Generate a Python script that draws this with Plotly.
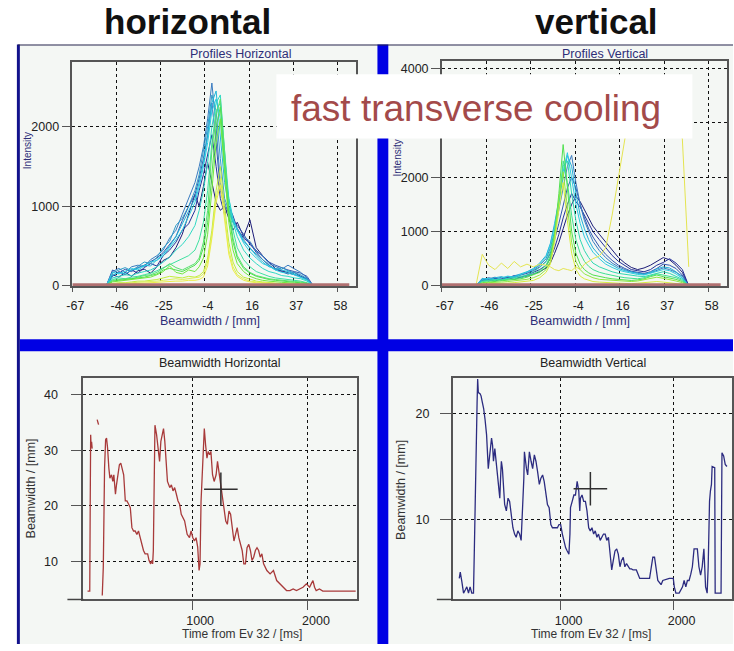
import plotly.graph_objects as go

W, H = 734, 651

# ---------------- profile data (intensity vs position) ----------------
PH_MM = [-51, -48, -45, -42, -39, -36, -33, -30, -27, -24, -21, -18, -15, -12, -9,
         -7, -5, -3, -1, 1, 3, 5, 7, 9, 11,
         14, 17, 20, 23, 26, 29, 32, 35, 38, 41, 44, 47]

PH_1 = [0, 140, 110, 170, 120, 190, 210, 160, 240, 320, 360, 480, 650, 900, 1150,
        1000, 1250, 1550, 1300, 1050, 950, 1000, 850, 700, 800,
        620, 830, 480, 380, 300, 220, 190, 160, 140, 120, 80, 0]
PH_2 = [0, 120, 180, 140, 200, 160, 230, 280, 250, 380, 450, 550, 700, 780, 950,
        1200, 1400, 1650, 1900, 1500, 1100, 900, 1000, 880, 720,
        600, 540, 420, 330, 260, 210, 180, 150, 170, 120, 90, 0]
PH_3 = [0, 200, 160, 210, 180, 230, 260, 300, 350, 420, 520, 620, 820, 1000, 1150,
        1350, 1600, 1900, 2300, 1800, 1200, 1000, 950, 800, 760,
        650, 520, 450, 380, 300, 260, 230, 200, 180, 160, 120, 0]
PH_4 = [0, 180, 220, 170, 240, 260, 240, 330, 380, 450, 600, 700, 900, 1100, 1300,
        1500, 1750, 2100, 2550, 2000, 1300, 1050, 900, 850, 700,
        620, 560, 430, 380, 280, 240, 210, 260, 220, 170, 100, 0]
PH_5 = [0, 160, 200, 230, 190, 250, 300, 280, 360, 480, 560, 760, 850, 1000, 1200,
        1400, 1700, 2000, 2400, 2200, 1600, 1100, 950, 800, 720,
        580, 470, 400, 320, 260, 200, 230, 190, 160, 140, 90, 0]
PH_6 = [0, 130, 170, 150, 200, 220, 260, 250, 330, 400, 500, 620, 780, 950, 1100,
        1300, 1550, 1900, 2300, 2450, 1900, 1300, 1000, 820, 700,
        560, 480, 380, 300, 240, 220, 200, 180, 150, 120, 80, 0]
PH_7 = [0, 170, 150, 190, 220, 200, 250, 300, 320, 380, 480, 580, 700, 880, 1050,
        1250, 1500, 1800, 2200, 2350, 2100, 1500, 1100, 850, 700,
        540, 430, 350, 280, 250, 200, 170, 160, 140, 110, 70, 0]
PH_8 = [0, 100, 120, 140, 130, 160, 180, 200, 240, 300, 360, 450, 520, 620, 760,
        950, 1200, 1550, 2000, 2300, 2400, 1700, 1100, 800, 620,
        450, 350, 280, 220, 180, 160, 130, 120, 100, 90, 60, 0]
PH_9 = [0, 80, 100, 90, 110, 120, 140, 160, 190, 230, 260, 300, 340, 380, 450,
        580, 800, 1200, 1800, 2200, 2300, 1600, 1000, 700, 480,
        330, 240, 180, 150, 120, 100, 90, 80, 70, 60, 40, 0]
PH_10 = [0, 70, 80, 90, 90, 110, 130, 140, 170, 220, 280, 230, 200, 240, 280,
         350, 550, 950, 1700, 2150, 2350, 1700, 950, 600, 380,
         240, 170, 130, 110, 90, 80, 70, 60, 55, 50, 35, 0]
PH_11 = [0, 60, 70, 80, 90, 100, 110, 130, 150, 200, 220, 200, 180, 220, 260,
         320, 480, 800, 1400, 2000, 2250, 1500, 900, 550, 350,
         220, 160, 120, 100, 80, 70, 60, 50, 45, 40, 30, 0]
PH_12 = [0, 50, 60, 70, 80, 90, 100, 110, 140, 180, 250, 170, 150, 200, 180,
         240, 350, 650, 1200, 1800, 2100, 1400, 800, 450, 280,
         180, 120, 90, 70, 60, 50, 45, 40, 35, 30, 20, 0]
PH_13 = [0, 30, 40, 40, 50, 60, 60, 70, 80, 100, 120, 110, 100, 120, 110,
         130, 180, 350, 700, 1200, 1500, 1000, 550, 300, 180,
         110, 80, 60, 50, 40, 35, 30, 30, 25, 20, 15, 0]
PH_14 = [0, 25, 30, 35, 35, 40, 45, 50, 60, 70, 80, 90, 80, 90, 100,
         110, 150, 300, 650, 1100, 1350, 900, 450, 240, 140,
         90, 60, 50, 40, 35, 30, 25, 25, 20, 20, 15, 0]
PH_15 = [0, 20, 25, 25, 30, 30, 35, 40, 45, 50, 60, 60, 60, 70, 70,
         80, 110, 250, 600, 1050, 1270, 800, 400, 200, 120,
         70, 50, 40, 35, 30, 25, 20, 20, 15, 15, 10, 0]
PH_ALL = [PH_1, PH_2, PH_3, PH_4, PH_5, PH_6, PH_7, PH_8, PH_9, PH_10,
          PH_11, PH_12, PH_13, PH_14, PH_15]

PV_MM = [-51, -48, -45, -42, -39, -36, -33, -30, -27, -24, -21, -18,
         -16, -14, -12, -10, -8, -6, -4, -2, 0, 2, 4,
         7, 10, 13, 16, 19, 22, 25, 28, 31, 34, 37, 40, 43, 46, 49]

PV_1 = [0, 100, 120, 90, 130, 150, 120, 160, 180, 220, 260, 330,
        420, 600, 800, 1050, 1300, 1500, 1650, 1550, 1400, 1250, 1100,
        950, 800, 650, 520, 420, 340, 300, 330, 380, 450, 520, 480, 380, 250, 0]
PV_2 = [0, 130, 90, 140, 110, 160, 180, 150, 200, 250, 300, 380,
        500, 700, 950, 1250, 1500, 1700, 1550, 1450, 1300, 1150, 1000,
        850, 700, 560, 450, 380, 300, 280, 260, 300, 380, 430, 500, 420, 300, 0]
PV_3 = [0, 110, 150, 120, 160, 140, 190, 200, 230, 280, 350, 450,
        600, 850, 1150, 1500, 1800, 2000, 1800, 1500, 1250, 1050, 900,
        720, 580, 470, 380, 320, 270, 250, 230, 260, 320, 400, 380, 320, 200, 0]
PV_4 = [0, 90, 130, 160, 120, 170, 150, 200, 240, 300, 380, 500,
        700, 1000, 1400, 1800, 2200, 2400, 1900, 1500, 1200, 1000, 820,
        650, 520, 420, 350, 300, 260, 240, 220, 240, 290, 330, 300, 250, 180, 0]
PV_5 = [0, 140, 110, 150, 170, 130, 180, 220, 260, 320, 420, 560,
        780, 1150, 1600, 2000, 2400, 2200, 1700, 1300, 1050, 850, 700,
        560, 450, 380, 320, 280, 250, 230, 210, 250, 310, 350, 330, 260, 150, 0]
PV_6 = [0, 120, 140, 110, 150, 180, 160, 210, 250, 300, 400, 530,
        760, 1100, 1550, 2100, 2450, 2000, 1500, 1150, 900, 750, 620,
        500, 400, 340, 290, 260, 230, 210, 200, 230, 260, 300, 280, 220, 140, 0]
PV_7 = [0, 90, 100, 120, 110, 140, 150, 180, 200, 260, 340, 450,
        650, 1000, 1500, 2200, 2300, 1700, 1200, 850, 650, 520, 420,
        350, 300, 260, 230, 210, 190, 180, 170, 200, 240, 260, 230, 180, 120, 0]
PV_8 = [0, 80, 90, 100, 100, 110, 130, 150, 180, 220, 280, 380,
        560, 900, 1500, 2300, 1900, 1300, 850, 600, 450, 360, 300,
        250, 220, 190, 170, 150, 140, 130, 150, 180, 220, 200, 180, 150, 100, 0]
PV_9 = [0, 60, 70, 80, 90, 100, 110, 130, 160, 200, 250, 350,
        520, 950, 1700, 2600, 1800, 1000, 600, 400, 300, 240, 200,
        170, 150, 130, 120, 110, 100, 110, 130, 170, 200, 170, 150, 120, 80, 0]
PV_10 = [0, 50, 60, 60, 70, 80, 90, 100, 120, 150, 200, 300,
         450, 900, 1600, 2100, 1500, 800, 450, 300, 220, 180, 150,
         120, 110, 100, 90, 80, 80, 90, 110, 140, 160, 140, 120, 90, 60, 0]
PV_11 = [0, 30, 40, 40, 50, 50, 60, 70, 80, 100, 150, 250,
         400, 800, 1400, 1900, 1200, 600, 300, 180, 130, 100, 80,
         70, 60, 55, 50, 45, 40, 50, 60, 70, 80, 70, 60, 50, 30, 0]
PV_12 = [0, 580, 380, 300, 420, 320, 450, 350, 400, 350, 400, 380,
         350, 300, 280, 320, 300, 280, 350, 300, 400, 450, 500,
         550, 700, 1300, 2000, 2700, 3300, 3500, 3600, 3500, 3600, 3500, 3400, 3200, 2700, 350]
PV_ALL = [PV_1, PV_2, PV_3, PV_4, PV_5, PV_6, PV_7, PV_8, PV_9, PV_10, PV_11, PV_12]

BASE_MM = [-67, 64]
BASE_H = [15, 15]
BASE_V = [20, 20]

MM_TICKS = [-67, -46.1, -25.2, -4.3, 16.6, 37.5, 58.4]
MM_TICK_TEXT = ["-67", "-46", "-25", "-4", "16", "37", "58"]
INT_TICKS_H = [0, 1000, 2000]
INT_TICKS_V = [0, 1000, 2000, 3000, 4000]
INT_TEXT_V = ["0", "1000", "2000", "", "4000"]

# ---------------- beamwidth vs time ----------------
BWH_T = [97, 116, 120, 124, 128, 132, 137, None, 180, 192, None,
         224, 233, 244, 253, 261, 270, 281, 290, 304, 315, 324, 338, 347, 361, 372, 384,
         395, 409, 423, 437, 452, 466, 480, 494, 508, 523, 537, 551, 565, 580, 594, 616,
         628, 642, 651, 659, 665, 673, 679, 693, 707, 719, 730, 741, 753, 764, 776, 787,
         807, 821, 835, 849, 864, 878, 892, 906, 935, 957, 977, 991, 1006, 1020, 1034,
         1048, 1060, 1068, 1077, 1094, 1105, 1116, 1128, 1139, 1151, 1162, 1176, 1190,
         1207, 1219, 1230, 1241, 1253, 1264, 1276, 1290, 1304, 1318, 1332, 1347, 1361,
         1375, 1389, 1403, 1418, 1432, 1446, 1460, 1474, 1489, 1503, 1517, 1531, 1546,
         1560, 1574, 1588, 1602, 1617, 1645, 1673, 1702, 1730, 1759, 1787, 1815, 1844,
         1872, 1901, 1929, 1957, 1986, 2000, 2014, 2028, 2043, 2057, 2071, 2099, 2128,
         2156, 2412]
BWH_V = [4.7, 4.7, 20.0, 32.8, 30.5, 31.5, 30.3, None, 35.5, 34.6, None,
         3.9, 9.0, 26.8, 31.9, 32.2, 30.4, 26.8, 25.0, 25.6, 24.4, 25.6, 22.1, 23.8, 25.6, 27.4, 27.7,
         26.8, 25.6, 20.9, 20.9, 20.3, 19.7, 16.1, 15.5, 15.5, 14.9, 15.5, 14.3, 13.1, 12.0, 11.4, 11.4,
         10.2, 9.6, 10.2, 9.6, 12.0, 26.8, 34.5, 32.8, 29.8, 28.0, 31.6, 32.8, 33.9, 31.6, 28.0, 24.4,
         23.3, 23.8, 22.7, 23.3, 22.1, 20.9, 20.3, 18.5, 17.3, 14.9, 14.3, 15.5, 14.3, 13.7, 14.3,
         12.6, 8.4, 9.6, 20.9, 31.0, 33.9, 31.0, 28.6, 29.8, 29.2, 29.8, 25.6, 24.4,
         25.6, 28.0, 26.2, 24.4, 22.7, 20.9, 19.7, 17.3, 16.7, 19.1, 18.5, 16.1, 13.7,
         14.9, 16.1, 14.3, 13.1, 12.0, 9.6, 9.6, 12.5, 13.1, 12.0, 10.2, 10.8, 12.0,
         12.5, 12.0, 10.8, 11.4, 9.6, 8.4, 7.8, 8.4, 6.6, 6.0, 5.4, 4.8, 4.8,
         5.1, 4.8, 5.1, 5.4, 6.0, 5.7, 5.4, 6.0, 6.6, 5.4, 4.8, 5.1, 4.7,
         4.7, 4.7]

BWV_T = [102, 111, 125, 140, 155, 169, 184, 198, 213, 228, 236, 242, 251, 260, 265, 271,
         286, 295, 306, 318, 330, 344, 359, 367, 376, 388, 397, 405, 417, 429, 440, 452,
         461, 469, 475, 484, 493, 504, 519, 534, 548, 563, 577, 592, 606, 621, 636, 650,
         665, 674, 679, 688, 697, 708, 723, 738, 752, 767, 781, 796, 811, 825, 840, 854,
         869, 883, 898, 913, 927, 971, 985, 1000, 1015, 1029, 1044, 1058, 1073, 1082,
         1087, 1102, 1117, 1131, 1140, 1146, 1160, 1169, 1175, 1189, 1204, 1219, 1233,
         1248, 1262, 1277, 1292, 1306, 1321, 1335, 1350, 1364, 1379, 1394, 1408, 1423,
         1437, 1452, 1466, 1481, 1496, 1510, 1525, 1539, 1554, 1568, 1583, 1598, 1612,
         1627, 1641, 1670, 1700, 1787, 1802, 1816, 1831, 1845, 1860, 1889, 1904, 1962,
         1997, 2006, 2020, 2049, 2079, 2093, 2108, 2122, 2137, 2152, 2166, 2181, 2210,
         2224, 2239, 2253, 2268, 2283, 2297, 2306, 2312, 2318, 2326, 2335, 2341, 2364,
         2368, 2420, 2428, 2443, 2457, 2472]
BWV_V = [4.4, 5.0, 4.1, 3.0, 3.3, 3.6, 3.0, 3.6, 3.0, 3.0, 7.3, 11.7, 18.0, 21.1, 23.3, 22.0,
         21.9, 21.7, 21.1, 20.5, 19.5, 18.0, 14.8, 15.5, 16.4, 17.7, 17.0, 15.5, 16.7, 15.5, 14.2, 13.3,
         12.0, 14.2, 15.5, 14.8, 13.0, 11.4, 10.8, 12.0, 11.7, 10.5, 9.2, 8.6, 8.3, 8.9, 8.6, 8.0,
         11.1, 13.9, 16.4, 15.5, 14.8, 14.2, 16.4, 15.5, 14.8, 16.1, 15.5, 14.5, 13.3, 13.9, 14.2, 13.6,
         12.3, 11.4, 11.1, 9.5, 9.2, 9.2, 9.5, 9.5, 8.6, 8.0, 7.3, 7.0, 6.7, 8.6,
         11.1, 11.7, 12.3, 12.3, 13.0, 13.6, 12.7, 10.8, 12.0, 12.3, 11.7, 11.7, 10.8,
         9.2, 8.9, 9.2, 8.6, 8.9, 8.3, 8.6, 8.0, 8.3, 8.6, 8.6, 8.0, 8.3,
         7.0, 5.2, 6.1, 7.0, 7.2, 6.7, 5.5, 6.1, 6.4, 5.5, 5.8, 5.5, 5.3,
         5.3, 5.2, 5.2, 4.4, 4.4, 5.5, 6.4, 6.4, 5.5, 4.2, 3.8, 4.2, 4.4,
         4.4, 3.6, 3.0, 3.0, 3.6, 4.2, 3.6, 4.2, 4.2, 4.8, 5.5, 7.2, 7.2,
         5.5, 4.7, 5.5, 7.2, 3.6, 3.0, 5.5, 10.2, 11.7, 12.7, 13.3, 15.0, 14.9,
         3.0, 3.0, 16.3, 16.0, 15.2, 15.0]

CURSOR_H = ([1248], [23.0])
CURSOR_V = ([1263], [12.9])
T_TICKS = [1000, 2000]
BWH_TICKS = [10, 20, 30, 40]
BWV_TICKS = [10, 20]

# ---------------- styling ----------------
PH_COLORS = ["#1c1c78", "#24309a", "#2f55b0", "#3a7cc0", "#2f9cc8", "#22b6da",
             "#2ccbe0", "#30d8c4", "#3ee0a0", "#58e070", "#4fe050", "#70e83c",
             "#c0ec3c", "#dcee58", "#ecec48"]
PV_COLORS = ["#1c1c78", "#24309a", "#2f55b0", "#3a7cc0", "#22b0d8", "#2ccbe0",
             "#30d8b0", "#3ee090", "#50e050", "#90e840", "#d8ec40", "#e4e450"]

PANEL_BG = "#f4f7f4"
BLUE = "#0000e4"
FONT = "Liberation Sans"


def px(x):
    return x / W


def py(y):
    return 1 - y / H


fig = go.Figure()

for vals, col in zip(PH_ALL, PH_COLORS):
    fig.add_trace(go.Scatter(x=PH_MM, y=vals, mode="lines", line=dict(color=col, width=1),
                             xaxis="x", yaxis="y", showlegend=False))
fig.add_trace(go.Scatter(x=BASE_MM, y=BASE_H, mode="lines", line=dict(color="#b07070", width=3),
                         xaxis="x", yaxis="y", showlegend=False))

for vals, col in zip(PV_ALL, PV_COLORS):
    fig.add_trace(go.Scatter(x=PV_MM, y=vals, mode="lines", line=dict(color=col, width=1),
                             xaxis="x2", yaxis="y2", showlegend=False))
fig.add_trace(go.Scatter(x=BASE_MM, y=BASE_V, mode="lines", line=dict(color="#b07070", width=3),
                         xaxis="x2", yaxis="y2", showlegend=False))

fig.add_trace(go.Scatter(x=BWH_T, y=BWH_V, mode="lines", connectgaps=False,
                         line=dict(color="#a83a3a", width=1.3),
                         xaxis="x3", yaxis="y3", showlegend=False))
fig.add_trace(go.Scatter(x=CURSOR_H[0], y=CURSOR_H[1], mode="markers",
                         marker=dict(symbol="cross-thin", size=24, line=dict(color="#303030", width=1.5)),
                         xaxis="x3", yaxis="y3", showlegend=False))

fig.add_trace(go.Scatter(x=BWV_T, y=BWV_V, mode="lines",
                         line=dict(color="#2c2c80", width=1.3),
                         xaxis="x4", yaxis="y4", showlegend=False))
fig.add_trace(go.Scatter(x=CURSOR_V[0], y=CURSOR_V[1], mode="markers",
                         marker=dict(symbol="cross-thin", size=24, line=dict(color="#303030", width=1.5)),
                         xaxis="x4", yaxis="y4", showlegend=False))

tickfont = dict(family=FONT, size=12.5, color="#222222")
common = dict(showline=True, mirror=True, linecolor="#555555", linewidth=1.5,
              showgrid=True, gridcolor="#111111", griddash="3px,3px", gridwidth=1,
              zeroline=False, ticks="outside", tickcolor="#555555", tickfont=tickfont,
              fixedrange=True)

fig.update_layout(
    width=W, height=H,
    margin=dict(l=0, r=0, t=0, b=0),
    paper_bgcolor="white", plot_bgcolor=PANEL_BG,
    xaxis=dict(domain=[px(67), px(353)], range=[-67, 67], anchor="y",
               tickvals=MM_TICKS, ticktext=MM_TICK_TEXT, ticklen=4,
               ticklabelstandoff=3, ticklabelshift=3, **common),
    yaxis=dict(domain=[py(289), py(63)], range=[0, 2810], anchor="x",
               tickvals=INT_TICKS_H, ticklen=9, **common),
    xaxis2=dict(domain=[px(440), px(728)], range=[-67, 67], anchor="y2",
                tickvals=MM_TICKS, ticktext=MM_TICK_TEXT, ticklen=4,
                ticklabelstandoff=3, ticklabelshift=3, **common),
    yaxis2=dict(domain=[py(289), py(62)], range=[0, 4130], anchor="x2",
                tickvals=INT_TICKS_V, ticktext=INT_TEXT_V, ticklen=9, **common),
    xaxis3=dict(domain=[px(78), px(354)], range=[60, 2420], anchor="y3",
                tickvals=T_TICKS, ticklen=9, ticklabelshift=8, ticklabelstandoff=0, **common),
    yaxis3=dict(domain=[py(606), py(382)], range=[3.2, 43], anchor="x3",
                tickvals=BWH_TICKS, ticklen=11, ticklabelstandoff=10, **common),
    xaxis4=dict(domain=[px(451), px(733)], range=[44, 2517], anchor="y4",
                tickvals=T_TICKS, ticklen=9, ticklabelshift=8, ticklabelstandoff=0, **common),
    yaxis4=dict(domain=[py(606), py(382)], range=[2.4, 23.4], anchor="x4",
                tickvals=BWV_TICKS, ticklen=11, ticklabelstandoff=8, **common),
)


def rect(x0, y0, x1, y1, color, layer="below"):
    return dict(type="rect", xref="paper", yref="paper", x0=px(x0), x1=px(x1),
                y0=py(y1), y1=py(y0), fillcolor=color, line=dict(width=0), layer=layer)


def hline(x0, x1, y, color, width):
    return dict(type="line", xref="paper", yref="paper", x0=px(x0), x1=px(x1),
                y0=py(y), y1=py(y), line=dict(color=color, width=width), layer="above")


shapes = [
    rect(14, 46, 375, 343, PANEL_BG),
    rect(386, 46, 734, 343, PANEL_BG),
    rect(14, 355, 375, 651, PANEL_BG),
    rect(386, 355, 734, 651, PANEL_BG),
    rect(11, 45, 14, 651, "#12128c"),
    rect(375, 45, 386, 651, BLUE),
    rect(14, 343, 734, 355, BLUE),
    hline(12, 734, 45.5, "#22224a", 1.2),
    hline(62, 78, 606, "#444444", 1.5),
    hline(435, 451, 606, "#444444", 1.5),
    rect(273, 75, 693, 140, "white", layer="above"),
]
fig.update_layout(shapes=shapes)


def note(text, x, y, size, color, angle=0, bold=False, xanchor="center"):
    if bold:
        text = "<b>" + text + "</b>"
    return dict(text=text, x=px(x), y=py(y), xref="paper", yref="paper", showarrow=False,
                xanchor=xanchor, yanchor="middle", textangle=angle,
                font=dict(family=FONT, size=size, color=color))


NAVY_TXT = "#2e2e78"
annotations = [
    note("horizontal", 183, 22, 35, "#111111", bold=True),
    note("vertical", 596, 22, 35, "#111111", bold=True),
    note("Profiles Horizontal", 237, 55, 12.5, NAVY_TXT),
    note("Profiles Vertical", 605, 55, 12.5, NAVY_TXT),
    note("Intensity", 22, 152, 10, NAVY_TXT, angle=-90),
    note("Intensity", 395, 160, 10, NAVY_TXT, angle=-90),
    note("Beamwidth / [mm]", 206, 324, 12.5, NAVY_TXT),
    note("Beamwidth / [mm]", 580, 324, 12.5, NAVY_TXT),
    note("Beamwidth Horizontal", 216, 367, 12.5, "#222222"),
    note("Beamwidth Vertical", 593, 367, 12.5, "#222222"),
    note("Beamwidth / [mm]", 25, 494, 12.5, "#333333", angle=-90),
    note("Beamwidth / [mm]", 398, 495, 12.5, "#333333", angle=-90),
    note("Time from Ev 32 / [ms]", 238, 641, 12, "#333333"),
    note("Time from Ev 32 / [ms]", 591, 641, 12, "#333333"),
    note("fast transverse cooling", 475, 110, 37, "#a34a4a"),
]
fig.update_layout(annotations=annotations)

fig.write_html("out.html", include_plotlyjs=True)
